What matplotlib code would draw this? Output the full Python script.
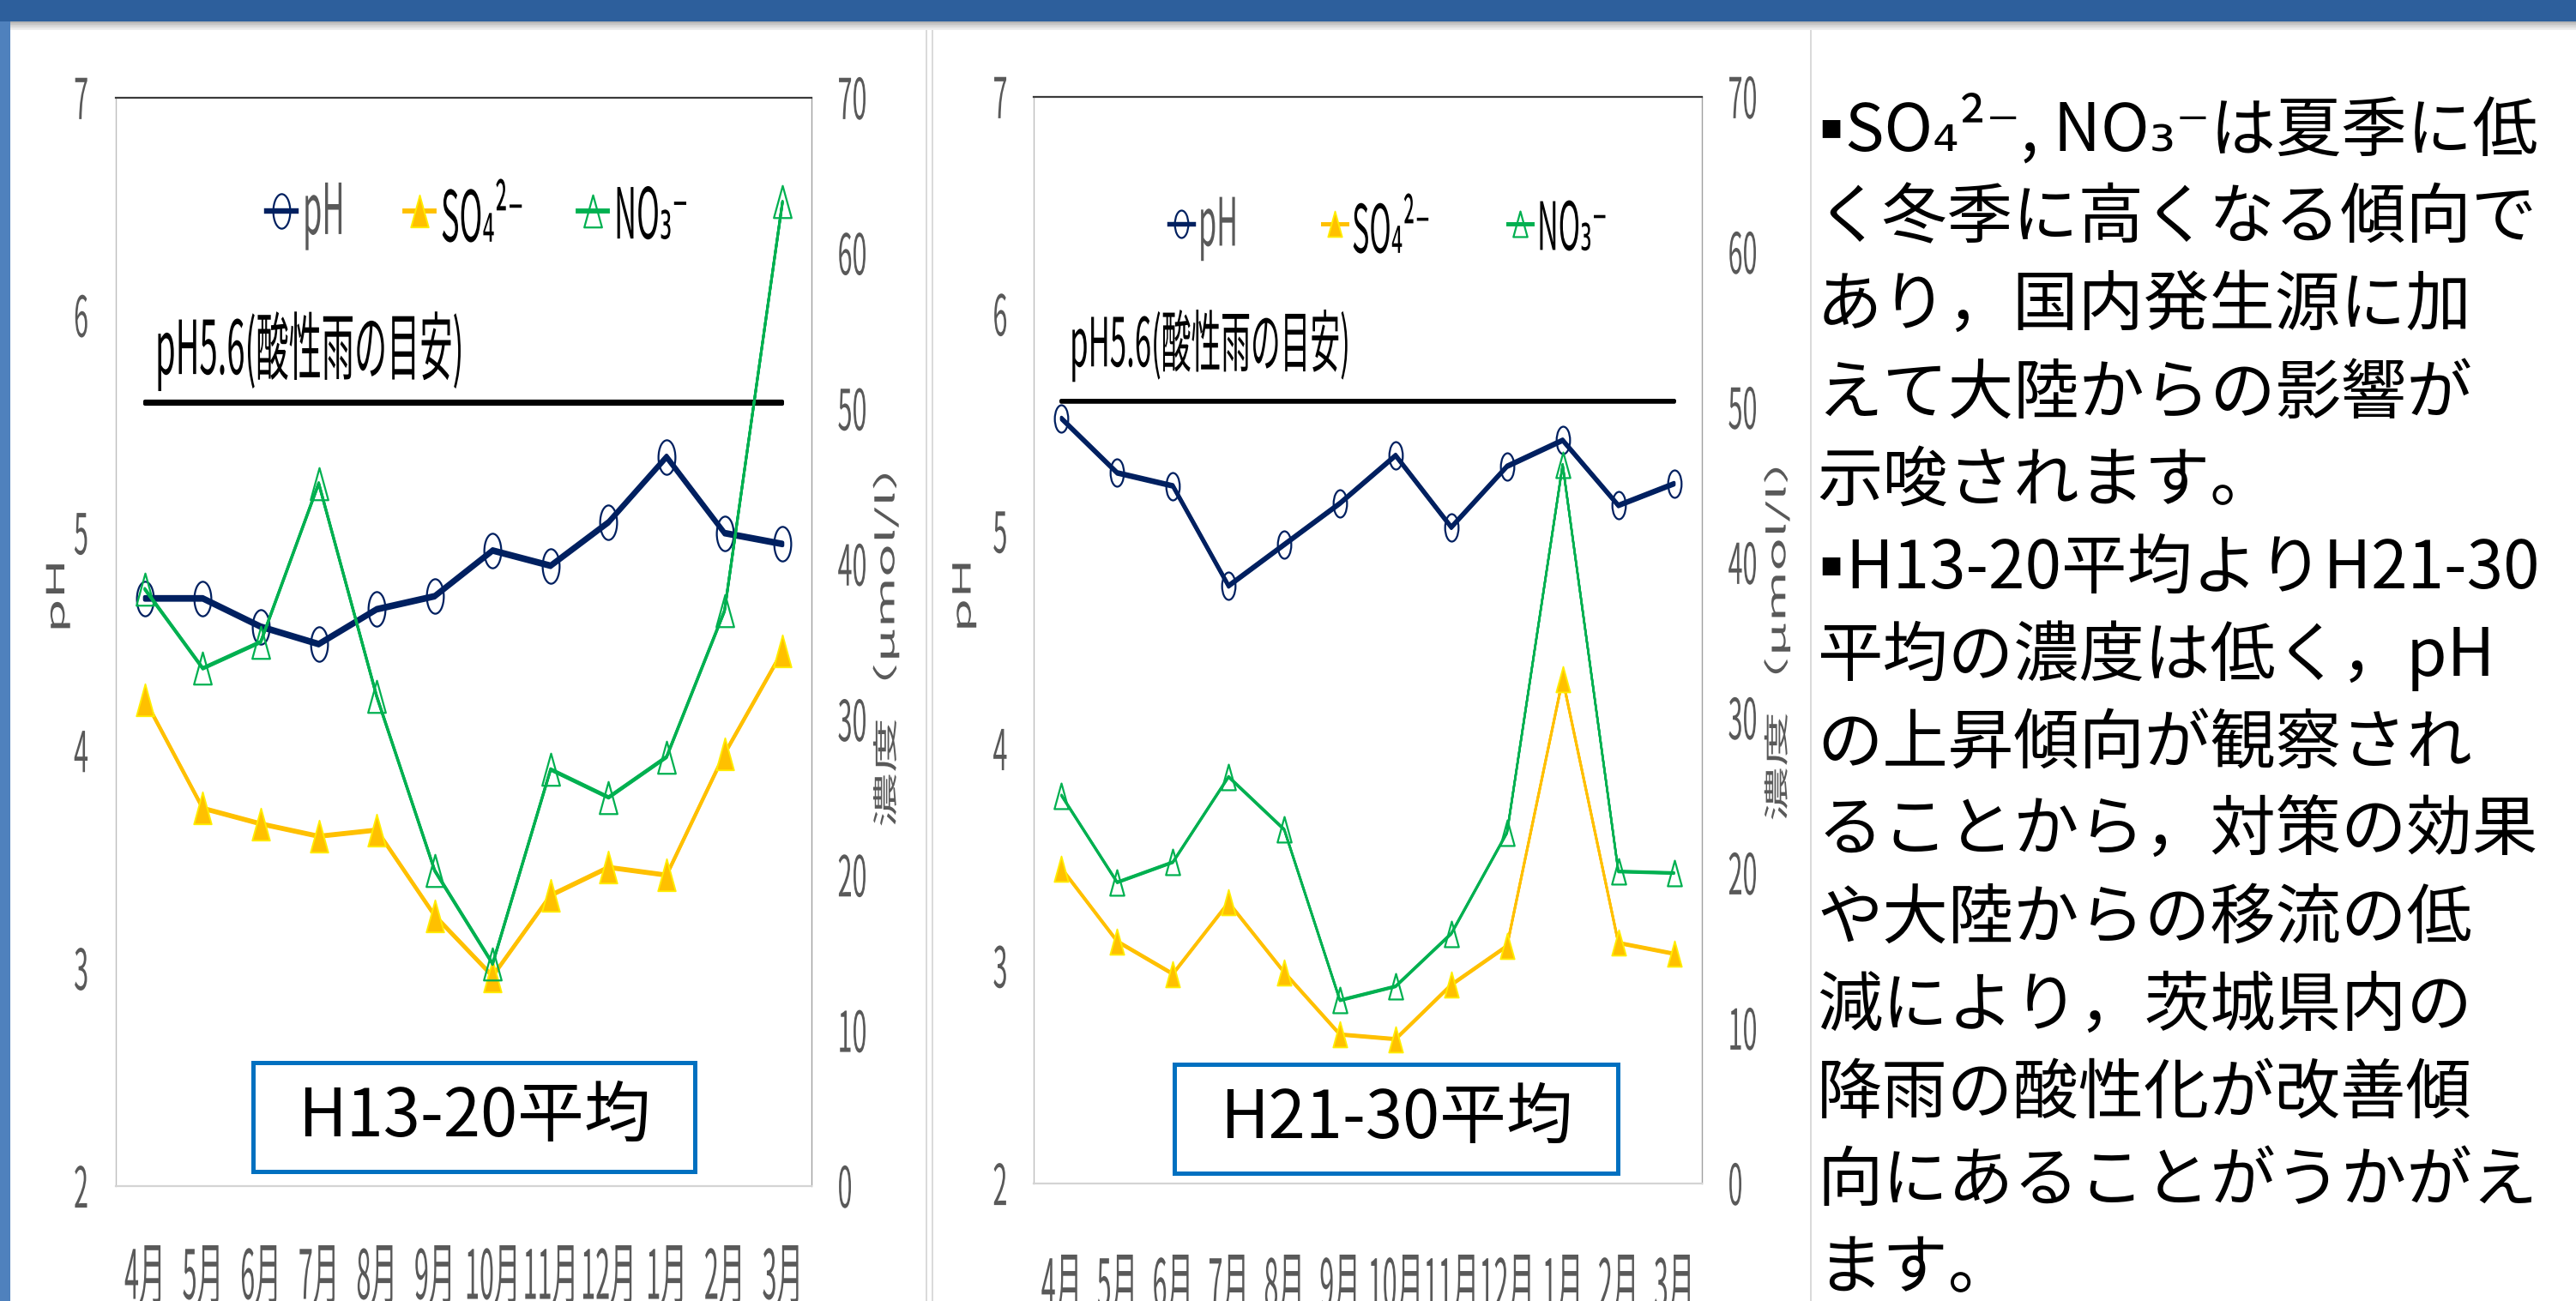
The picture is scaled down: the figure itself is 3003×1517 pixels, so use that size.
import numpy as np
import matplotlib
matplotlib.use("Agg")
import matplotlib.pyplot as plt
from matplotlib.patheffects import AbstractPathEffect
from matplotlib.transforms import Affine2D
from matplotlib.path import Path
from matplotlib.lines import Line2D
from matplotlib.patches import Rectangle
from matplotlib.legend import Legend

plt.rcParams["font.family"] = ["Noto Sans CJK JP", "DejaVu Sans"]

# ---------------- data ----------------
months = ["4月", "5月", "6月", "7月", "8月", "9月", "10月", "11月", "12月", "1月", "2月", "3月"]

ph_h13_20 = [4.70, 4.70, 4.57, 4.49, 4.65, 4.71, 4.92, 4.85, 5.05, 5.35, 5.00, 4.95]
so4_h13_20 = [31.3, 24.3, 23.3, 22.5, 22.9, 17.4, 13.5, 18.7, 20.5, 20.0, 27.8, 34.4]
no3_h13_20 = [38.4, 33.3, 35.0, 45.2, 31.5, 20.3, 14.3, 26.8, 25.0, 27.6, 37.0, 63.3]

ph_h21_30 = [5.52, 5.27, 5.21, 4.75, 4.94, 5.13, 5.35, 5.02, 5.30, 5.42, 5.12, 5.22]
so4_h21_30 = [20.3, 15.6, 13.5, 18.1, 13.6, 9.6, 9.3, 12.8, 15.3, 32.5, 15.5, 14.8]
no3_h21_30 = [25.0, 19.4, 20.7, 26.2, 22.8, 11.8, 12.7, 16.1, 22.6, 46.3, 20.1, 20.0]

ph_guide = 5.6
guide_label = "pH5.6(酸性雨の目安)"
period_labels = ["H13-20平均", "H21-30平均"]
series_names = ["pH", "SO₄²⁻", "NO₃⁻"]
ph_ticks = [2, 3, 4, 5, 6, 7]
conc_ticks = [0, 10, 20, 30, 40, 50, 60, 70]
ph_axis_label = "pH"
conc_axis_label = "濃度（μmol/l）"

bullet = "▪"
summary_lines = [
    (True, "SO₄²⁻, NO₃⁻は夏季に低"),
    (False, "く冬季に高くなる傾向で"),
    (False, "あり，国内発生源に加"),
    (False, "えて大陸からの影響が"),
    (False, "示唆されます。"),
    (True, "H13-20平均よりH21-30"),
    (False, "平均の濃度は低く，pH"),
    (False, "の上昇傾向が観察され"),
    (False, "ることから，対策の効果"),
    (False, "や大陸からの移流の低"),
    (False, "減により，茨城県内の"),
    (False, "降雨の酸性化が改善傾"),
    (False, "向にあることがうかがえ"),
    (False, "ます。"),
]

# ---------------- styles ----------------
NAVY = "#002060"
GOLD = "#FFC000"
GOLD_EDGE = "#FFEE00"
GREEN = "#00B050"
GREY_TXT = "#595959"
ST = 2.27      # vertical stretch of chart lettering
ST_X = 2.6     # month labels
ST_ROT = 2.2   # lengthwise stretch of rotated axis titles


class Stretch(AbstractPathEffect):
    """Draw glyph outlines scaled about their ink centre."""

    def __init__(self, sx=1.0, sy=1.0):
        super().__init__()
        self.sx, self.sy = sx, sy

    def draw_path(self, renderer, gc, tpath, affine, rgbFace=None):
        ext = tpath.get_extents()
        cx = 0.5 * (ext.x0 + ext.x1)
        cy = 0.5 * (ext.y0 + ext.y1)
        t = (Affine2D().translate(-cx, -cy).scale(self.sx, self.sy)
             .translate(cx, cy) + affine)
        renderer.draw_path(gc, tpath, t, rgbFace)


class TallPen(AbstractPathEffect):
    """Stroke with a vertically elongated pen (thicker on flat segments)."""

    def __init__(self, dy):
        super().__init__()
        self.dy = dy

    def draw_path(self, renderer, gc, tpath, affine, rgbFace=None):
        d = renderer.points_to_pixels(self.dy)
        for k in np.linspace(-d, d, 5):
            renderer.draw_path(gc, tpath, affine + Affine2D().translate(0, k), rgbFace)


ELLIPSE = Path.unit_circle().transformed(Affine2D().scale(0.49, 1.0))
TRIANGLE = Path([(0, 1), (-0.55, -1), (0.55, -1), (0, 1)],
                [Path.MOVETO, Path.LINETO, Path.LINETO, Path.CLOSEPOLY])

W, H = 3003, 1517
fig = plt.figure(figsize=(W / 100, H / 100), dpi=100)
fig.patch.set_facecolor("white")


def fx(px):
    return px / W


def fy(py):
    return 1 - py / H


def frect(x0, y0, x1, y1):
    return [fx(x0), fy(y1), (x1 - x0) / W, (y1 - y0) / H]


def band(x0, y0, x1, y1, color, z=0.5):
    fig.add_artist(Rectangle((fx(x0), fy(y1)), (x1 - x0) / W, (y1 - y0) / H,
                             transform=fig.transFigure, facecolor=color,
                             edgecolor="none", zorder=z))


# slide frame
band(0, 0, W, 25, "#2D5F9C")
for i, c in enumerate(["#B5B5B5", "#C6C6C6", "#D5D5D5", "#E2E2E2", "#EDEDED"]):
    band(12, 25 + 2 * i, W, 27 + 2 * i, c)
band(0, 25, 12, H, "#4F81BD")
band(1079, 35, 1081, H, "#DADADA")
band(1086, 35, 1088, H, "#DADADA")
band(2110, 35, 2112, H, "#DADADA")

panels = [
    dict(box=(135, 114, 946, 1383), ms=(29, 27), lw=1.0, xpad=65, ypad=(23, 22),
         leg_x=(311, 472, 674), leg_y=250, leg_fs=26, leg_hl=34, leg_pad=8,
         guide_xy=(0.0567, 0.767), guide_fs=27.5,
         ph_lab=(-0.0838, 0.542), conc_lab=(1.1085, 0.50),
         period_box=(295, 1239, 810, 1366)),
    dict(box=(1205, 113, 1984, 1380), ms=(23, 21.5), lw=0.85, xpad=75, ypad=(22, 22),
         leg_x=(1363, 1542, 1758), leg_y=265, leg_fs=24.6, leg_hl=28, leg_pad=6,
         guide_xy=(0.054, 0.771), guide_fs=25,
         ph_lab=(-0.1046, 0.541), conc_lab=(1.114, 0.504),
         period_box=(1369, 1241, 1886, 1368)),
]
datasets = [(ph_h13_20, so4_h13_20, no3_h13_20), (ph_h21_30, so4_h21_30, no3_h21_30)]


def draw_panel(cfg, ph, so4, no3, period):
    ax = fig.add_axes(frect(*cfg["box"]))
    axc = ax.twinx()
    x = np.arange(len(months))
    k = cfg["lw"]
    ms_c, ms_t = cfg["ms"]

    ax.set_xlim(-0.5, len(months) - 0.5)
    ax.set_ylim(ph_ticks[0], ph_ticks[-1])
    axc.set_ylim(conc_ticks[0], conc_ticks[-1])
    ax.set_xticks(x, months)
    ax.set_yticks(ph_ticks)
    axc.set_yticks(conc_ticks)

    # guide line and pH series
    ax.plot(x, [ph_guide] * len(x), color="black", lw=3.0 * k,
            solid_capstyle="round", path_effects=[TallPen(1.0 * k)], zorder=2)
    ax.plot(x, ph, color=NAVY, lw=3.0 * k, solid_joinstyle="round",
            solid_capstyle="round", path_effects=[TallPen(1.3 * k)], zorder=3)
    ax.plot(x, ph, ls="none", marker=ELLIPSE, ms=ms_c, mfc="none", mec=NAVY,
            mew=1.6, zorder=4)

    # concentrations on the secondary axis
    axc.plot(x, so4, color=GOLD, lw=2.2 * k, solid_joinstyle="round",
             solid_capstyle="round", path_effects=[TallPen(1.0 * k)], zorder=2)
    axc.plot(x, so4, ls="none", marker=TRIANGLE, ms=ms_t, mfc=GOLD, mec=GOLD_EDGE,
             mew=1.3, zorder=3)
    axc.plot(x, no3, color=GREEN, lw=2.0 * k, solid_joinstyle="round",
             solid_capstyle="round", path_effects=[TallPen(0.8 * k)], zorder=4)
    axc.plot(x, no3, ls="none", marker=TRIANGLE, ms=ms_t, mfc="none", mec=GREEN,
             mew=1.6, zorder=5)

    # frame
    for s in axc.spines.values():
        s.set_visible(False)
    ax.spines["top"].set_color("#3A3A3A")
    ax.spines["top"].set_linewidth(1.6)
    ax.spines["left"].set_color("#BDBDBD")
    ax.spines["left"].set_linewidth(1.0)
    ax.spines["right"].set_color("#A0A0A0")
    ax.spines["right"].set_linewidth(1.0)
    ax.spines["bottom"].set_color("#D4D4D4")
    ax.spines["bottom"].set_linewidth(1.6)

    ax.tick_params(axis="x", length=0, pad=cfg["xpad"], labelsize=22, labelcolor=GREY_TXT)
    ax.tick_params(axis="y", length=0, pad=cfg["ypad"][0], labelsize=22, labelcolor=GREY_TXT)
    axc.tick_params(axis="y", length=0, pad=cfg["ypad"][1], labelsize=22, labelcolor=GREY_TXT)
    for t in ax.get_xticklabels():
        t.set_path_effects([Stretch(sy=ST_X)])
    for t in ax.get_yticklabels() + axc.get_yticklabels():
        t.set_path_effects([Stretch(sy=2.15)])

    # axis titles
    ax.set_ylabel(ph_axis_label, fontsize=21, color=GREY_TXT, va="center", ha="center")
    ax.yaxis.set_label_coords(*cfg["ph_lab"])
    ax.yaxis.label.set_path_effects([Stretch(sx=ST_ROT)])
    axc.set_ylabel(conc_axis_label, fontsize=21, color=GREY_TXT, rotation=90,
                   va="center", ha="center")
    axc.yaxis.set_label_coords(*cfg["conc_lab"])
    axc.yaxis.label.set_path_effects([Stretch(sx=ST_ROT)])

    # guide annotation
    ax.text(*cfg["guide_xy"], guide_label, transform=ax.transAxes, fontsize=cfg["guide_fs"],
            color="black", ha="left", va="center", path_effects=[Stretch(sy=ST)])

    # legend entries
    handles = [
        Line2D([], [], color=NAVY, lw=4.6 * k, marker=ELLIPSE, ms=ms_c, mfc="none",
               mec=NAVY, mew=1.6),
        Line2D([], [], color=GOLD, lw=4.2 * k, marker=TRIANGLE, ms=ms_t, mfc=GOLD,
               mec=GOLD_EDGE, mew=1.3),
        Line2D([], [], color=GREEN, lw=4.2 * k, marker=TRIANGLE, ms=ms_t, mfc="none",
               mec=GREEN, mew=1.6),
    ]
    colors = [GREY_TXT, "black", "black"]
    fs_px = cfg["leg_fs"] * 100 / 72
    for h, name, c, lx in zip(handles, series_names, colors, cfg["leg_x"]):
        leg = Legend(axc, [h], [name], loc="center left",
                     bbox_to_anchor=(fx(lx), fy(cfg["leg_y"])),
                     bbox_transform=fig.transFigure, frameon=False, borderpad=0,
                     borderaxespad=0, handlelength=cfg["leg_hl"] / fs_px,
                     handletextpad=cfg["leg_pad"] / fs_px, handleheight=1.2,
                     fontsize=cfg["leg_fs"], labelcolor=c, numpoints=1)
        for t in leg.get_texts():
            t.set_path_effects([Stretch(sy=ST)])
        axc.add_artist(leg)

    # period caption box
    x0, y0, x1, y1 = cfg["period_box"]
    fig.add_artist(Rectangle((fx(x0), fy(y1)), (x1 - x0) / W, (y1 - y0) / H,
                             transform=fig.transFigure, facecolor="white",
                             edgecolor="#0070C0", lw=3.6, zorder=5))
    fig.text(fx((x0 + x1) / 2), fy((y0 + y1) / 2 + 1), period, fontsize=56,
             color="black", ha="center", va="center", zorder=6)


for cfg, (ph, so4, no3), period in zip(panels, datasets, period_labels):
    draw_panel(cfg, ph, so4, no3, period)

# commentary text
for i, (has_bullet, line) in enumerate(summary_lines):
    base = 175 + 102.1 * i
    if has_bullet:
        fig.text(fx(2120), fy(base - 27), bullet, fontsize=30, color="black",
                 family="DejaVu Sans", ha="left", va="center")
        fig.text(fx(2151), fy(base), line, fontsize=55, color="black",
                 ha="left", va="baseline")
    else:
        fig.text(fx(2118), fy(base), line, fontsize=55, color="black",
                 ha="left", va="baseline")

fig.savefig("out.png", dpi=100, facecolor="white")
